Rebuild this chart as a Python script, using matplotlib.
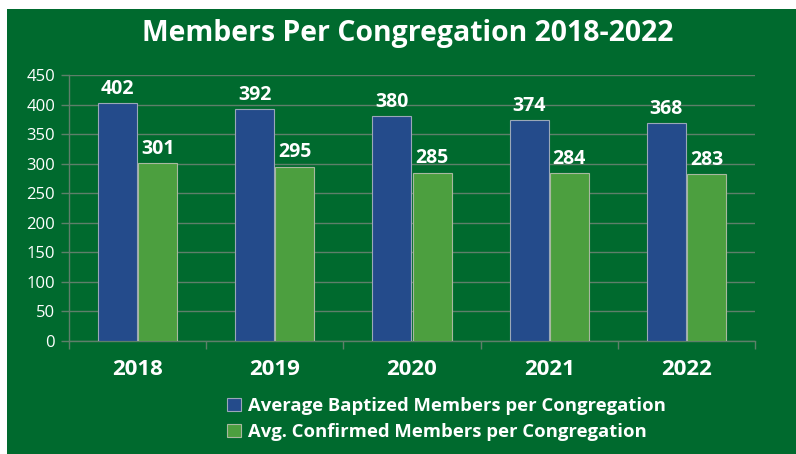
import matplotlib
matplotlib.use('Agg')
import matplotlib.pyplot as plt
import matplotlib.patches as patches
import numpy as np

years = ['2018', '2019', '2020', '2021', '2022']
baptized = [402, 392, 380, 374, 368]
confirmed = [301, 295, 285, 284, 283]
series_names = ['Average Baptized Members per Congregation',
                'Avg. Confirmed Members per Congregation']

BG = '#006A2E'
BLUE = '#244B8B'
GREEN = '#4C9F3F'
GRID = '#5E7F6A'
FONT = ['Open Sans', 'DejaVu Sans']

W, H = 796, 454
fig = plt.figure(figsize=(W / 100, H / 100), dpi=100)
fig.patch.set_facecolor('white')
# green panel with white margin on top and left
fig.patches.append(patches.Rectangle((7 / W, 0), 1 - 7 / W, 1 - 9 / H,
                                     transform=fig.transFigure,
                                     facecolor=BG, edgecolor='none', zorder=-10))

ax = fig.add_axes([69 / W, 1 - 341 / H, (755 - 69) / W, (341 - 75) / H])
ax.patch.set_visible(False)

x = np.arange(len(years))
bw = 0.285
b1 = ax.bar(x - bw / 2 - 0.004, baptized, bw, color=BLUE, edgecolor='#9AA8B8',
            linewidth=0.8, zorder=3, label=series_names[0])
b2 = ax.bar(x + bw / 2 + 0.004, confirmed, bw, color=GREEN, edgecolor='#A8B8A0',
            linewidth=0.8, zorder=3, label=series_names[1])

for bars in (b1, b2):
    for r in bars:
        ax.text(r.get_x() + r.get_width() / 2, r.get_height() + 7,
                f'{int(r.get_height())}', ha='center', va='bottom',
                color='white', fontsize=14, fontweight='bold', family=FONT,
                zorder=4)

ax.set_xlim(-0.5, len(years) - 0.5)
ax.set_ylim(0, 450)
ax.set_yticks(np.arange(0, 451, 50))
ax.yaxis.grid(True, color=GRID, linewidth=1, zorder=0)
ax.set_axisbelow(True)
for s in ['top', 'right']:
    ax.spines[s].set_visible(False)
ax.spines['left'].set_color(GRID)
ax.spines['bottom'].set_color(GRID)
ax.spines['left'].set_linewidth(1)
ax.spines['bottom'].set_linewidth(1)

ax.set_xticks(x)
ax.set_xticklabels(years)
ax.set_xticks(np.arange(-0.5, len(years), 1), minor=True)
ax.tick_params(axis='x', which='major', length=0, pad=13)
ax.tick_params(axis='x', which='minor', length=6, color=GRID, width=1)
ax.tick_params(axis='y', length=6, color=GRID, width=1, pad=4)
for lab in ax.get_xticklabels():
    lab.set_color('white')
    lab.set_fontsize(16)
    lab.set_fontweight('bold')
    lab.set_family(FONT)
for lab in ax.get_yticklabels():
    lab.set_color('white')
    lab.set_fontsize(12)
    lab.set_family(FONT)

fig.text(408 / W, 1 - 34 / H, 'Members Per Congregation 2018-2022',
         ha='center', va='center', color='white', fontsize=20.4,
         fontweight='bold', family=FONT)

leg = fig.legend(handles=[b1, b2], loc='center left',
                 bbox_to_anchor=(220 / W, 1 - 419 / H), ncol=1, frameon=False,
                 handlelength=0.75, handleheight=0.75, handletextpad=0.35,
                 labelspacing=0.45, borderaxespad=0,
                 prop={'family': FONT, 'weight': 'bold', 'size': 13.3})
for t in leg.get_texts():
    t.set_color('white')

fig.savefig('out.png', dpi=100, facecolor=fig.get_facecolor())
